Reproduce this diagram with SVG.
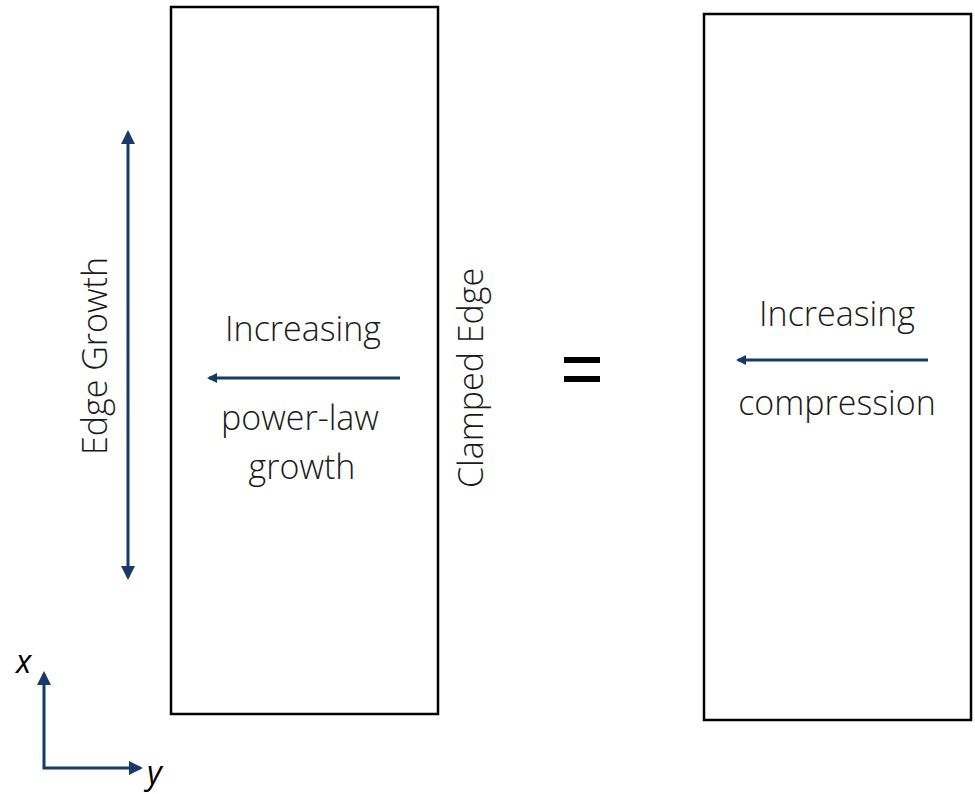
<svg xmlns="http://www.w3.org/2000/svg" width="975" height="794" viewBox="0 0 975 794">
<style>
.box{fill:#fff;stroke:#000;stroke-width:2.5}
.lbl{font-family:"Open Sans","Liberation Sans",sans-serif;font-weight:300;font-size:34px;fill:#1a1a1a;text-anchor:middle}
.ax{font-family:"Open Sans","Liberation Sans",sans-serif;font-style:italic;font-size:32px;fill:#000}
.ar{stroke:#173a69;stroke-width:3;fill:none}
</style>
<defs>
<marker id="ah" markerWidth="10" markerHeight="10" refX="8" refY="5" orient="auto-start-reverse" markerUnits="userSpaceOnUse">
<path d="M0,0 L10,5 L0,10 Z" fill="#173a69"/>
</marker>
<marker id="ahb" markerWidth="14" markerHeight="14" refX="11" refY="7" orient="auto-start-reverse" markerUnits="userSpaceOnUse">
<path d="M0,0 L14,7 L0,14 Z" fill="#173a69"/>
</marker>
</defs>
<g id="left-box">
<rect class="box" x="171" y="7" width="267" height="707"/>
<text class="lbl" x="303" y="341">Increasing</text>
<text class="lbl" x="300" y="430">power-law</text>
<text class="lbl" x="302" y="479">growth</text>
</g>
<g id="right-box">
<rect class="box" x="704" y="14" width="267" height="706"/>
<text class="lbl" x="837" y="326">Increasing</text>
<text class="lbl" x="837" y="415">compression</text>
</g>
<g id="edge-growth">
<text class="lbl" transform="translate(107,356) rotate(-90)">Edge Growth</text>
</g>
<g id="clamped-edge">
<text class="lbl" transform="translate(483,378) rotate(-90)">Clamped Edge</text>
</g>
<g id="equals">
<rect x="564" y="357" width="36" height="6" fill="#000"/>
<rect x="564" y="376" width="36" height="6" fill="#000"/>
</g>
<g id="axes">
<text class="ax" x="16" y="673">x</text>
<text class="ax" x="147" y="784">y</text>
</g>
<g id="connectors">
<line class="ar" x1="128" y1="133" x2="128" y2="577" marker-start="url(#ahb)" marker-end="url(#ahb)"/>
<line class="ar" x1="400" y1="378" x2="209" y2="378" marker-end="url(#ah)"/>
<line class="ar" x1="928" y1="360" x2="738" y2="360" marker-end="url(#ah)"/>
<polyline class="ar" points="44,674 44,768 140,768" stroke-width="2" marker-start="url(#ahb)" marker-end="url(#ahb)"/>
</g>
</svg>
